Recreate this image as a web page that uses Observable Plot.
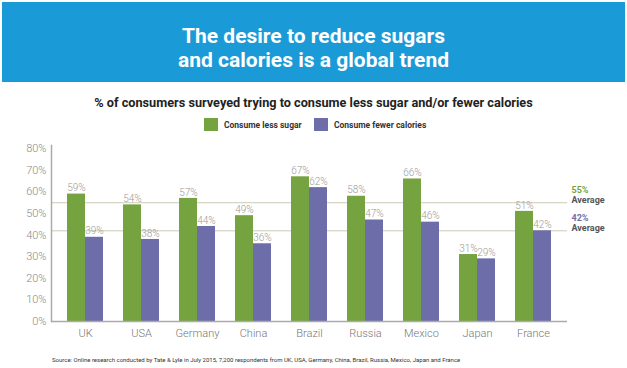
<!DOCTYPE html>
<html>
<head>
<meta charset="utf-8">
<script src="https://cdn.jsdelivr.net/npm/d3@7"></script>
<script src="https://cdn.jsdelivr.net/npm/@observablehq/plot@0.6"></script>
<style>
  html, body { margin: 0; padding: 0; background: #fff; width: 627px; height: 368px; overflow: hidden; position: relative; font-family: Roboto, "Open Sans", sans-serif; }
  #banner { position: absolute; left: 2px; top: 2px; width: 623px; height: 80px; background: #1a9ad6; color: #fff; text-align: center; font-weight: 700; font-size: 21px; line-height: 24px; box-sizing: border-box; padding-top: 22px; }
  #subtitle { position: absolute; left: 0; top: 95px; width: 627px; text-align: center; box-sizing: border-box; font-weight: 700; font-size: 12.7px; color: #222; }
  .leg { position: absolute; top: 118px; font-size: 8.5px; font-weight: 700; color: #333; display: flex; align-items: center; }
  .sw { width: 14px; height: 13px; margin-right: 6px; }
  #chart { position: absolute; left: 0; top: 138px; }
  #source { position: absolute; left: 52px; top: 356px; font-size: 6px; color: #333; white-space: nowrap; }
</style>
</head>
<body>
<div id="banner">The desire to reduce sugars<br>and calories is a global trend</div>
<div id="subtitle">% of consumers surveyed trying to consume less sugar and/or fewer calories</div>
<div class="leg" style="left:204px"><div class="sw" style="background:#74a33f"></div>Consume less sugar</div>
<div class="leg" style="left:314px"><div class="sw" style="background:#6d6ea9"></div>Consume fewer calories</div>
<div id="chart"></div>
<div id="source">Source: Online research conducted by Tate &amp; Lyle in July 2015, 7,200 respondents from UK, USA, Germany, China, Brazil, Russia, Mexico, Japan and France</div>
<script>
const countries = ["UK", "USA", "Germany", "China", "Brazil", "Russia", "Mexico", "Japan", "France"];
const lessSugar = [59, 54, 57, 49, 67, 58, 66, 31, 51];
const fewerCalories = [39, 38, 44, 36, 62, 47, 46, 29, 42];
const averages = [55, 42];
const yTicks = [0, 10, 20, 30, 40, 50, 60, 70, 80];

const green = "#74a33f";
const purple = "#6d6ea9";

const sugarRows = countries.map((c, i) => ({country: c, value: lessSugar[i]}));
const calRows = countries.map((c, i) => ({country: c, value: fewerCalories[i]}));
const avgRows = [
  {value: averages[0], color: green},
  {value: averages[1], color: purple}
];

const chart = Plot.plot({
  width: 627,
  height: 215,
  marginLeft: 51,
  marginRight: 60,
  marginTop: 7,
  marginBottom: 32,
  style: {fontFamily: "Roboto, sans-serif", fontSize: "11px", background: "transparent"},
  x: {domain: countries, paddingInner: 0.36, paddingOuter: 0.26, label: null},
  y: {domain: [0, 81.5], label: null},
  marks: [
    Plot.ruleY(averages, {stroke: "#c9cbb6", strokeWidth: 1}),
    Plot.barY(sugarRows, {x: "country", y: "value", fill: green, insetRight: 18}),
    Plot.barY(calRows, {x: "country", y: "value", fill: purple, insetLeft: 18}),
    Plot.text(sugarRows, {x: "country", y: "value", text: d => d.value + "%", dx: -9, dy: -6, fill: "#9a9a9a", fontSize: 10, fontWeight: 300}),
    Plot.text(calRows, {x: "country", y: "value", text: d => d.value + "%", dx: 9, dy: -6, fill: "#9a9a9a", fontSize: 10, fontWeight: 300}),
    Plot.frame({anchor: "left", stroke: "#aaa", strokeWidth: 1.5}),
    Plot.ruleY([0], {stroke: "#aaa", strokeWidth: 1.5}),
    Plot.axisY({ticks: yTicks, tickSize: 0, tickPadding: 5, tickFormat: d => d + "%", color: "#8a8a8a", fontWeight: 300}),
    Plot.axisX({tickSize: 0, tickPadding: 8, color: "#777", fontWeight: 300, label: null}),
    Plot.text(avgRows, {y: "value", text: d => d.value + "%", frameAnchor: "right", dx: 4, dy: -13, textAnchor: "start", fill: d => d.color, fontWeight: 700, fontSize: 9}),
    Plot.text(avgRows, {y: "value", text: () => "Average", frameAnchor: "right", dx: 4, dy: -3, textAnchor: "start", fill: "#555", fontWeight: 700, fontSize: 9})
  ]
});
document.getElementById("chart").appendChild(chart);
</script>
</body>
</html>
